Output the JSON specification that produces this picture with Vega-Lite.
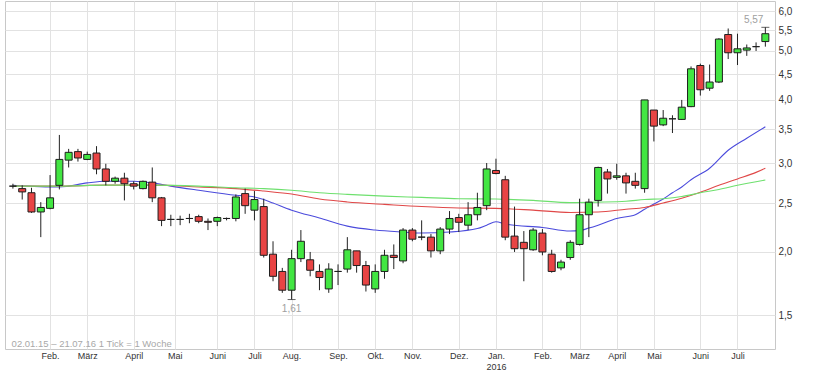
{
  "$schema": "https://vega.github.io/schema/vega-lite/v6.json",
  "width": 770,
  "height": 348,
  "autosize": {"type": "none"},
  "padding": {"left": 5, "top": 1, "right": 40, "bottom": 21},
  "background": "white",
  "config": {
    "font": "Liberation Sans",
    "view": {"stroke": "#c8c8c8", "strokeWidth": 1},
    "axisY": {
      "grid": true,
      "gridColor": "#e2e2e2",
      "domain": false,
      "ticks": false,
      "labelPadding": 3,
      "labelFontSize": 10,
      "labelColor": "#333333",
      "labelAlign": "left",
      "labelBaseline": "middle",
      "labelOverlap": false
    }
  },
  "datasets": {
    "candles": [
      {"d": "2015-01-02", "o": 2.70, "h": 2.73, "l": 2.67, "c": 2.70},
      {"d": "2015-01-09", "o": 2.67, "h": 2.71, "l": 2.54, "c": 2.63},
      {"d": "2015-01-16", "o": 2.62, "h": 2.68, "l": 2.39, "c": 2.40},
      {"d": "2015-01-23", "o": 2.40, "h": 2.51, "l": 2.14, "c": 2.45},
      {"d": "2015-01-30", "o": 2.44, "h": 2.84, "l": 2.43, "c": 2.56},
      {"d": "2015-02-06", "o": 2.71, "h": 3.41, "l": 2.66, "c": 3.05},
      {"d": "2015-02-13", "o": 3.04, "h": 3.20, "l": 2.94, "c": 3.15},
      {"d": "2015-02-20", "o": 3.16, "h": 3.20, "l": 3.02, "c": 3.07},
      {"d": "2015-02-27", "o": 3.05, "h": 3.16, "l": 3.04, "c": 3.12},
      {"d": "2015-03-06", "o": 3.14, "h": 3.24, "l": 2.85, "c": 2.92},
      {"d": "2015-03-13", "o": 2.92, "h": 2.99, "l": 2.71, "c": 2.76},
      {"d": "2015-03-20", "o": 2.76, "h": 2.82, "l": 2.73, "c": 2.80},
      {"d": "2015-03-27", "o": 2.80, "h": 2.87, "l": 2.53, "c": 2.73},
      {"d": "2015-04-03", "o": 2.73, "h": 2.76, "l": 2.66, "c": 2.70},
      {"d": "2015-04-10", "o": 2.67, "h": 2.77, "l": 2.66, "c": 2.76},
      {"d": "2015-04-17", "o": 2.75, "h": 2.94, "l": 2.51, "c": 2.56},
      {"d": "2015-04-24", "o": 2.56, "h": 2.57, "l": 2.25, "c": 2.31},
      {"d": "2015-05-01", "o": 2.32, "h": 2.37, "l": 2.25, "c": 2.32},
      {"d": "2015-05-08", "o": 2.32, "h": 2.36, "l": 2.26, "c": 2.32},
      {"d": "2015-05-15", "o": 2.33, "h": 2.38, "l": 2.28, "c": 2.33},
      {"d": "2015-05-22", "o": 2.35, "h": 2.37, "l": 2.28, "c": 2.30},
      {"d": "2015-05-29", "o": 2.30, "h": 2.33, "l": 2.21, "c": 2.29},
      {"d": "2015-06-05", "o": 2.30, "h": 2.35, "l": 2.25, "c": 2.34},
      {"d": "2015-06-12", "o": 2.33, "h": 2.34, "l": 2.31, "c": 2.33},
      {"d": "2015-06-19", "o": 2.33, "h": 2.60, "l": 2.30, "c": 2.57},
      {"d": "2015-06-26", "o": 2.61, "h": 2.67, "l": 2.38, "c": 2.47},
      {"d": "2015-07-03", "o": 2.42, "h": 2.64, "l": 2.31, "c": 2.54},
      {"d": "2015-07-10", "o": 2.46, "h": 2.55, "l": 1.95, "c": 1.97},
      {"d": "2015-07-17", "o": 1.98, "h": 2.10, "l": 1.75, "c": 1.79},
      {"d": "2015-07-24", "o": 1.83, "h": 1.86, "l": 1.66, "c": 1.68},
      {"d": "2015-07-31", "o": 1.68, "h": 2.02, "l": 1.61, "c": 1.94},
      {"d": "2015-08-07", "o": 1.94, "h": 2.21, "l": 1.91, "c": 2.10},
      {"d": "2015-08-14", "o": 1.93, "h": 2.00, "l": 1.79, "c": 1.84},
      {"d": "2015-08-21", "o": 1.83, "h": 1.89, "l": 1.68, "c": 1.78},
      {"d": "2015-08-28", "o": 1.69, "h": 1.90, "l": 1.66, "c": 1.85},
      {"d": "2015-09-04", "o": 1.83, "h": 1.89, "l": 1.72, "c": 1.83},
      {"d": "2015-09-11", "o": 1.85, "h": 2.14, "l": 1.82, "c": 2.02},
      {"d": "2015-09-18", "o": 2.01, "h": 2.01, "l": 1.82, "c": 1.88},
      {"d": "2015-09-25", "o": 1.88, "h": 1.92, "l": 1.67, "c": 1.72},
      {"d": "2015-10-02", "o": 1.69, "h": 1.89, "l": 1.66, "c": 1.83},
      {"d": "2015-10-09", "o": 1.83, "h": 2.02, "l": 1.77, "c": 1.97},
      {"d": "2015-10-16", "o": 1.97, "h": 2.07, "l": 1.85, "c": 1.95},
      {"d": "2015-10-23", "o": 1.92, "h": 2.23, "l": 1.90, "c": 2.21},
      {"d": "2015-10-30", "o": 2.21, "h": 2.23, "l": 2.10, "c": 2.12},
      {"d": "2015-11-06", "o": 2.14, "h": 2.31, "l": 2.11, "c": 2.14},
      {"d": "2015-11-13", "o": 2.14, "h": 2.17, "l": 1.95, "c": 2.01},
      {"d": "2015-11-20", "o": 2.01, "h": 2.24, "l": 1.98, "c": 2.22},
      {"d": "2015-11-27", "o": 2.22, "h": 2.41, "l": 2.17, "c": 2.33},
      {"d": "2015-12-04", "o": 2.34, "h": 2.38, "l": 2.19, "c": 2.29},
      {"d": "2015-12-11", "o": 2.26, "h": 2.51, "l": 2.21, "c": 2.37},
      {"d": "2015-12-18", "o": 2.37, "h": 2.62, "l": 2.31, "c": 2.45},
      {"d": "2015-12-25", "o": 2.47, "h": 3.00, "l": 2.42, "c": 2.92},
      {"d": "2016-01-01", "o": 2.90, "h": 3.06, "l": 2.85, "c": 2.86},
      {"d": "2016-01-08", "o": 2.78, "h": 2.83, "l": 2.11, "c": 2.14},
      {"d": "2016-01-15", "o": 2.15, "h": 2.46, "l": 2.00, "c": 2.03},
      {"d": "2016-01-22", "o": 2.09, "h": 2.20, "l": 1.75, "c": 2.03},
      {"d": "2016-01-29", "o": 2.02, "h": 2.23, "l": 2.01, "c": 2.21},
      {"d": "2016-02-05", "o": 2.18, "h": 2.22, "l": 1.97, "c": 2.00},
      {"d": "2016-02-12", "o": 1.98, "h": 2.02, "l": 1.82, "c": 1.83},
      {"d": "2016-02-19", "o": 1.86, "h": 1.93, "l": 1.84, "c": 1.91},
      {"d": "2016-02-26", "o": 1.95, "h": 2.11, "l": 1.93, "c": 2.09},
      {"d": "2016-03-04", "o": 2.07, "h": 2.55, "l": 2.06, "c": 2.37},
      {"d": "2016-03-11", "o": 2.37, "h": 2.55, "l": 2.14, "c": 2.51},
      {"d": "2016-03-18", "o": 2.53, "h": 2.95, "l": 2.46, "c": 2.94},
      {"d": "2016-03-25", "o": 2.88, "h": 2.92, "l": 2.61, "c": 2.79},
      {"d": "2016-04-01", "o": 2.81, "h": 2.99, "l": 2.78, "c": 2.83},
      {"d": "2016-04-08", "o": 2.83, "h": 2.87, "l": 2.61, "c": 2.74},
      {"d": "2016-04-15", "o": 2.76, "h": 2.87, "l": 2.67, "c": 2.71},
      {"d": "2016-04-22", "o": 2.67, "h": 4.00, "l": 2.62, "c": 4.00},
      {"d": "2016-04-29", "o": 3.82, "h": 3.82, "l": 3.31, "c": 3.55},
      {"d": "2016-05-06", "o": 3.57, "h": 3.82, "l": 3.55, "c": 3.68},
      {"d": "2016-05-13", "o": 3.67, "h": 3.73, "l": 3.44, "c": 3.67},
      {"d": "2016-05-20", "o": 3.66, "h": 4.00, "l": 3.65, "c": 3.87},
      {"d": "2016-05-27", "o": 3.88, "h": 4.66, "l": 3.87, "c": 4.61},
      {"d": "2016-06-03", "o": 4.68, "h": 4.72, "l": 4.08, "c": 4.19},
      {"d": "2016-06-10", "o": 4.22, "h": 4.70, "l": 4.17, "c": 4.34},
      {"d": "2016-06-17", "o": 4.34, "h": 5.30, "l": 4.32, "c": 5.28},
      {"d": "2016-06-24", "o": 5.39, "h": 5.54, "l": 4.82, "c": 4.96},
      {"d": "2016-07-01", "o": 4.96, "h": 5.41, "l": 4.69, "c": 5.05},
      {"d": "2016-07-08", "o": 5.02, "h": 5.15, "l": 4.89, "c": 5.07},
      {"d": "2016-07-15", "o": 5.10, "h": 5.20, "l": 5.00, "c": 5.10},
      {"d": "2016-07-22", "o": 5.22, "h": 5.57, "l": 5.10, "c": 5.41}
    ],
    "notes": [
      {"d": "2016-07-22", "v": 5.57, "t": "5,57", "k": "max"},
      {"d": "2015-07-31", "v": 1.61, "t": "1,61", "k": "min"}
    ],
    "ma": [
      {"d": "2015-01-02", "s": "blue", "v": 2.71},
      {"d": "2015-02-06", "s": "blue", "v": 2.69},
      {"d": "2015-02-27", "s": "blue", "v": 2.74},
      {"d": "2015-03-13", "s": "blue", "v": 2.76},
      {"d": "2015-04-03", "s": "blue", "v": 2.76},
      {"d": "2015-04-17", "s": "blue", "v": 2.74},
      {"d": "2015-05-01", "s": "blue", "v": 2.70},
      {"d": "2015-05-22", "s": "blue", "v": 2.65},
      {"d": "2015-06-19", "s": "blue", "v": 2.59},
      {"d": "2015-07-03", "s": "blue", "v": 2.57},
      {"d": "2015-07-10", "s": "blue", "v": 2.54},
      {"d": "2015-07-17", "s": "blue", "v": 2.50},
      {"d": "2015-07-31", "s": "blue", "v": 2.42},
      {"d": "2015-08-21", "s": "blue", "v": 2.335},
      {"d": "2015-09-11", "s": "blue", "v": 2.25},
      {"d": "2015-10-02", "s": "blue", "v": 2.21},
      {"d": "2015-10-23", "s": "blue", "v": 2.19},
      {"d": "2015-11-06", "s": "blue", "v": 2.18},
      {"d": "2015-11-27", "s": "blue", "v": 2.19},
      {"d": "2015-12-18", "s": "blue", "v": 2.225},
      {"d": "2015-12-25", "s": "blue", "v": 2.26},
      {"d": "2016-01-01", "s": "blue", "v": 2.295},
      {"d": "2016-01-08", "s": "blue", "v": 2.272},
      {"d": "2016-02-05", "s": "blue", "v": 2.236},
      {"d": "2016-02-26", "s": "blue", "v": 2.20},
      {"d": "2016-03-04", "s": "blue", "v": 2.205},
      {"d": "2016-03-11", "s": "blue", "v": 2.23},
      {"d": "2016-03-18", "s": "blue", "v": 2.26},
      {"d": "2016-04-01", "s": "blue", "v": 2.33},
      {"d": "2016-04-15", "s": "blue", "v": 2.37},
      {"d": "2016-04-22", "s": "blue", "v": 2.43},
      {"d": "2016-04-29", "s": "blue", "v": 2.49},
      {"d": "2016-05-06", "s": "blue", "v": 2.546},
      {"d": "2016-05-13", "s": "blue", "v": 2.62},
      {"d": "2016-05-20", "s": "blue", "v": 2.69},
      {"d": "2016-05-27", "s": "blue", "v": 2.78},
      {"d": "2016-06-10", "s": "blue", "v": 2.93},
      {"d": "2016-06-24", "s": "blue", "v": 3.18},
      {"d": "2016-07-08", "s": "blue", "v": 3.36},
      {"d": "2016-07-22", "s": "blue", "v": 3.54},
      {"d": "2015-01-02", "s": "red", "v": 2.70},
      {"d": "2015-02-06", "s": "red", "v": 2.70},
      {"d": "2015-03-13", "s": "red", "v": 2.712},
      {"d": "2015-04-17", "s": "red", "v": 2.712},
      {"d": "2015-05-22", "s": "red", "v": 2.69},
      {"d": "2015-06-19", "s": "red", "v": 2.67},
      {"d": "2015-07-10", "s": "red", "v": 2.64},
      {"d": "2015-07-31", "s": "red", "v": 2.605},
      {"d": "2015-08-21", "s": "red", "v": 2.546},
      {"d": "2015-09-11", "s": "red", "v": 2.512},
      {"d": "2015-10-09", "s": "red", "v": 2.485},
      {"d": "2015-11-06", "s": "red", "v": 2.46},
      {"d": "2015-12-04", "s": "red", "v": 2.444},
      {"d": "2016-01-01", "s": "red", "v": 2.44},
      {"d": "2016-01-29", "s": "red", "v": 2.42},
      {"d": "2016-02-26", "s": "red", "v": 2.395},
      {"d": "2016-03-18", "s": "red", "v": 2.40},
      {"d": "2016-04-08", "s": "red", "v": 2.43},
      {"d": "2016-04-22", "s": "red", "v": 2.45},
      {"d": "2016-05-06", "s": "red", "v": 2.50},
      {"d": "2016-05-20", "s": "red", "v": 2.555},
      {"d": "2016-06-03", "s": "red", "v": 2.625},
      {"d": "2016-06-17", "s": "red", "v": 2.71},
      {"d": "2016-07-01", "s": "red", "v": 2.79},
      {"d": "2016-07-15", "s": "red", "v": 2.875},
      {"d": "2016-07-22", "s": "red", "v": 2.93},
      {"d": "2015-01-02", "s": "green", "v": 2.70},
      {"d": "2015-02-06", "s": "green", "v": 2.70},
      {"d": "2015-03-13", "s": "green", "v": 2.712},
      {"d": "2015-04-17", "s": "green", "v": 2.712},
      {"d": "2015-05-22", "s": "green", "v": 2.70},
      {"d": "2015-06-19", "s": "green", "v": 2.68},
      {"d": "2015-07-10", "s": "green", "v": 2.67},
      {"d": "2015-07-31", "s": "green", "v": 2.65},
      {"d": "2015-08-21", "s": "green", "v": 2.62},
      {"d": "2015-09-11", "s": "green", "v": 2.60},
      {"d": "2015-10-09", "s": "green", "v": 2.58},
      {"d": "2015-11-06", "s": "green", "v": 2.565},
      {"d": "2015-12-04", "s": "green", "v": 2.55},
      {"d": "2016-01-01", "s": "green", "v": 2.546},
      {"d": "2016-01-29", "s": "green", "v": 2.53},
      {"d": "2016-02-26", "s": "green", "v": 2.505},
      {"d": "2016-03-18", "s": "green", "v": 2.51},
      {"d": "2016-04-08", "s": "green", "v": 2.52},
      {"d": "2016-04-22", "s": "green", "v": 2.54},
      {"d": "2016-05-06", "s": "green", "v": 2.55},
      {"d": "2016-05-20", "s": "green", "v": 2.575},
      {"d": "2016-06-03", "s": "green", "v": 2.62},
      {"d": "2016-06-17", "s": "green", "v": 2.66},
      {"d": "2016-07-01", "s": "green", "v": 2.71},
      {"d": "2016-07-15", "s": "green", "v": 2.755},
      {"d": "2016-07-22", "s": "green", "v": 2.776}
    ]
  },
  "encoding": {
    "x": {
      "field": "d",
      "type": "temporal",
      "title": null,
      "scale": {"domain": [1419966720000, 1469448000000], "nice": false},
      "axis": {
        "values": [1422576000000, 1424995200000, 1428019200000, 1430697600000, 1433462400000, 1435881600000, 1438300800000, 1441324800000, 1443744000000, 1446163200000, 1449187200000, 1451606400000, 1454630400000, 1457049600000, 1459468800000, 1461888000000, 1464912000000, 1467331200000],
        "labelExpr": "utcmonth(time(datum.value) + 432000000) == 0 ? ['Jan.', '2016'] : ['Jan.','Feb.','März','April','Mai','Juni','Juli','Aug.','Sep.','Okt.','Nov.','Dez.'][utcmonth(time(datum.value) + 432000000)]",
        "title": null,
        "grid": true,
        "gridColor": "#e2e2e2",
        "gridWidth": 1,
        "domain": false,
        "ticks": false,
        "labelPadding": 2,
        "labelFontSize": 9,
        "labelColor": "#333333",
        "labelOverlap": false,
        "labelFlush": false,
        "labelBound": false,
        "labelLineHeight": 11
      }
    }
  },
  "layer": [
    {
      "data": {"name": "ma"},
      "mark": {"type": "line", "interpolate": "monotone", "strokeWidth": 1.1},
      "encoding": {
        "y": {"field": "v", "type": "quantitative", "title": null,
          "scale": {"type": "log", "domain": [1.285, 6.28], "nice": false, "zero": false},
          "axis": {"orient": "right", "title": null, "values": [1.5, 2, 2.5, 3, 3.5, 4, 4.5, 5, 5.5, 6], "labelExpr": "replace(format(datum.value, '.1f'), '.', ',')", "labelOverlap": false}},
        "color": {
          "field": "s",
          "type": "nominal",
          "legend": null,
          "scale": {"domain": ["green", "red", "blue"], "range": ["#6ee06e", "#e04848", "#4b4bdc"]}
        },
        "order": {"field": "d", "type": "temporal"}
      }
    },
    {
      "data": {"name": "candles"},
      "mark": {"type": "rule", "color": "#222222", "strokeWidth": 1},
      "encoding": {
        "y": {"field": "l", "type": "quantitative", "title": null,
          "scale": {"type": "log", "domain": [1.285, 6.28], "nice": false, "zero": false},
          "axis": {"orient": "right", "title": null, "values": [1.5, 2, 2.5, 3, 3.5, 4, 4.5, 5, 5.5, 6], "labelExpr": "replace(format(datum.value, '.1f'), '.', ',')", "labelOverlap": false}},
        "y2": {"field": "h"}
      }
    },
    {
      "data": {"name": "candles"},
      "mark": {"type": "bar", "size": 7, "stroke": "#1e1e1e", "strokeWidth": 1},
      "encoding": {
        "y": {"field": "o", "type": "quantitative", "title": null,
          "scale": {"type": "log", "domain": [1.285, 6.28], "nice": false, "zero": false},
          "axis": {"orient": "right", "title": null, "values": [1.5, 2, 2.5, 3, 3.5, 4, 4.5, 5, 5.5, 6], "labelExpr": "replace(format(datum.value, '.1f'), '.', ',')", "labelOverlap": false}},
        "y2": {"field": "c"},
        "fill": {
          "condition": {"test": "datum.c >= datum.o", "value": "#42e642"},
          "value": "#e84444"
        }
      }
    },
    {
      "data": {"name": "notes"},
      "mark": {"type": "tick", "orient": "horizontal", "size": 8, "thickness": 1, "color": "#222222"},
      "encoding": {
        "y": {"field": "v", "type": "quantitative", "title": null,
          "scale": {"type": "log", "domain": [1.285, 6.28], "nice": false, "zero": false},
          "axis": {"orient": "right", "title": null, "values": [1.5, 2, 2.5, 3, 3.5, 4, 4.5, 5, 5.5, 6], "labelExpr": "replace(format(datum.value, '.1f'), '.', ',')", "labelOverlap": false}}
      }
    },
    {
      "data": {"name": "notes"},
      "transform": [{"filter": "datum.k == 'max'"}],
      "mark": {"type": "text", "align": "right", "baseline": "middle", "dx": -2, "dy": -7, "fontSize": 10, "color": "#a0a0a0"},
      "encoding": {
        "y": {"field": "v", "type": "quantitative", "title": null,
          "scale": {"type": "log", "domain": [1.285, 6.28], "nice": false, "zero": false},
          "axis": {"orient": "right", "title": null, "values": [1.5, 2, 2.5, 3, 3.5, 4, 4.5, 5, 5.5, 6], "labelExpr": "replace(format(datum.value, '.1f'), '.', ',')", "labelOverlap": false}},
        "text": {"field": "t"}
      }
    },
    {
      "data": {"name": "notes"},
      "transform": [{"filter": "datum.k == 'min'"}],
      "mark": {"type": "text", "align": "center", "baseline": "middle", "dy": 9, "fontSize": 10, "color": "#a0a0a0"},
      "encoding": {
        "y": {"field": "v", "type": "quantitative", "title": null,
          "scale": {"type": "log", "domain": [1.285, 6.28], "nice": false, "zero": false},
          "axis": {"orient": "right", "title": null, "values": [1.5, 2, 2.5, 3, 3.5, 4, 4.5, 5, 5.5, 6], "labelExpr": "replace(format(datum.value, '.1f'), '.', ',')", "labelOverlap": false}},
        "text": {"field": "t"}
      }
    },
    {
      "data": {"values": [{"d": "2015-01-01", "v": 1.297, "t": "02.01.15 – 21.07.16  1 Tick = 1 Woche"}]},
      "mark": {"type": "text", "align": "left", "baseline": "alphabetic", "fontSize": 9.5, "color": "#a8a8a8"},
      "encoding": {
        "y": {"field": "v", "type": "quantitative", "title": null,
          "scale": {"type": "log", "domain": [1.285, 6.28], "nice": false, "zero": false},
          "axis": {"orient": "right", "title": null, "values": [1.5, 2, 2.5, 3, 3.5, 4, 4.5, 5, 5.5, 6], "labelExpr": "replace(format(datum.value, '.1f'), '.', ',')", "labelOverlap": false}},
        "text": {"field": "t"}
      }
    }
  ]
}
